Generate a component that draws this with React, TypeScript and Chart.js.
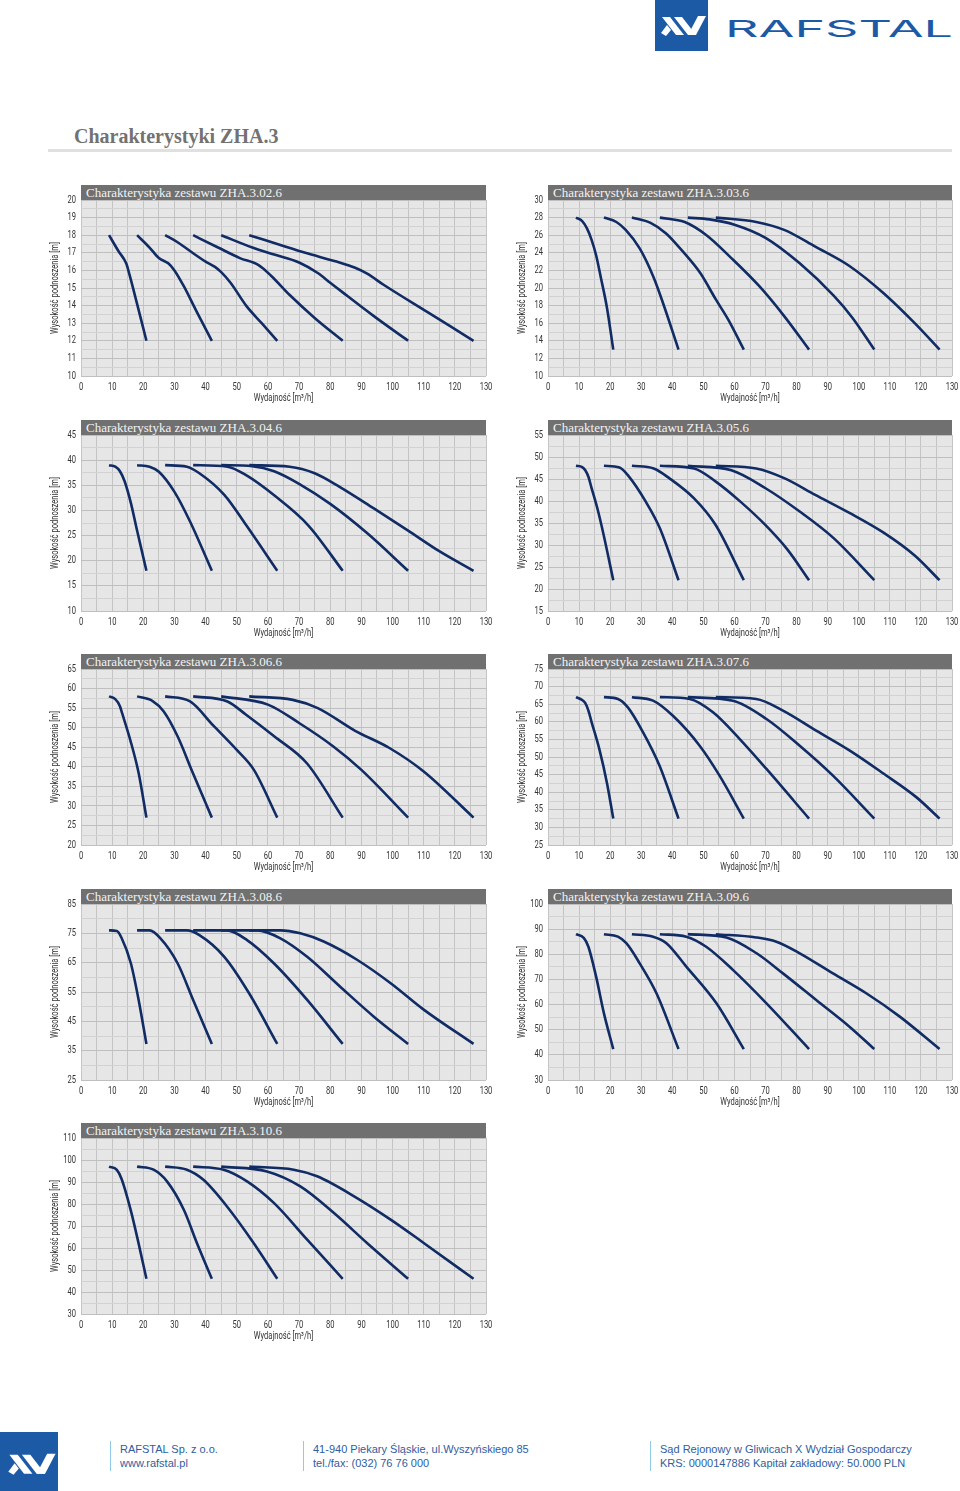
import React, { useEffect, useRef } from 'react';
import { Chart, registerables } from 'chart.js';

Chart.register(...registerables);

type Pt = [number, number];

// ---------------- data ----------------
const CHART_TITLES = [
  'Charakterystyka zestawu ZHA.3.02.6',
  'Charakterystyka zestawu ZHA.3.03.6',
  'Charakterystyka zestawu ZHA.3.04.6',
  'Charakterystyka zestawu ZHA.3.05.6',
  'Charakterystyka zestawu ZHA.3.06.6',
  'Charakterystyka zestawu ZHA.3.07.6',
  'Charakterystyka zestawu ZHA.3.08.6',
  'Charakterystyka zestawu ZHA.3.09.6',
  'Charakterystyka zestawu ZHA.3.10.6',
];
const Y_MIN = [10, 10, 10, 15, 20, 25, 25, 30, 30];
const Y_MAX = [20, 30, 45, 55, 65, 75, 85, 100, 110];
const Y_LABEL_STEP = [1, 2, 5, 5, 5, 5, 10, 10, 10];
const X_MIN = 0;
const X_MAX = 130;
const X_LABEL_STEP = 10;
const X_GRID_STEP = 5;
const X_TITLE = 'Wydajność [m³/h]';
const Y_TITLE = 'Wysokość podnoszenia [m]';

const ZHA_3_02_6: Pt[][] = [
  [[9, 18], [12, 17.1], [14.5, 16.4], [15.5, 15.8], [18, 14.1], [21, 12]],
  [[18, 18], [22, 17.3], [25, 16.7], [28, 16.4], [30, 16.0], [33, 15.1], [37, 13.7], [42, 12]],
  [[27, 18], [31, 17.6], [35, 17.1], [40, 16.5], [43, 16.2], [45, 15.9], [48, 15.3], [53, 14.0], [58, 13.0], [63, 12]],
  [[36, 18], [44, 17.3], [51, 16.7], [57, 16.3], [61, 15.7], [67, 14.6], [75, 13.3], [84, 12]],
  [[45, 18], [55, 17.3], [62, 16.9], [70, 16.45], [76, 15.85], [80, 15.3], [84, 14.75], [94, 13.4], [105, 12]],
  [[54, 18], [63, 17.5], [72, 17.0], [82, 16.5], [88, 16.15], [92, 15.8], [97, 15.2], [111.5, 13.6], [126, 12]],
];
const ZHA_3_03_6: Pt[][] = [
  [[9, 28], [11, 27.6], [12.5, 26.8], [14, 25.5], [15.5, 23.7], [17, 21.2], [19, 17.7], [21, 13]],
  [[18, 28], [22, 27.5], [25, 26.6], [29.5, 24.5], [34, 21.2], [37, 18.3], [42, 13]],
  [[27, 28], [33, 27.4], [38, 26.2], [43, 24.3], [49, 21.7], [54, 18.7], [58, 16.4], [63, 13]],
  [[36, 28], [44, 27.5], [51, 26], [59, 23.4], [68, 20.2], [76, 16.8], [84, 13]],
  [[45, 28], [52, 27.8], [60, 27.2], [70, 25.7], [81, 22.8], [92, 19.1], [98, 16.6], [105, 13]],
  [[54, 28], [67, 27.5], [76, 26.6], [86, 24.7], [97, 22.5], [108, 19.4], [118, 16], [126, 13]],
];
const ZHA_3_04_6: Pt[][] = [
  [[9, 39], [11, 38.7], [12.5, 37.8], [14, 35.8], [16, 31.5], [18, 26], [21, 18]],
  [[18, 39], [22, 38.7], [25, 37.7], [30, 33.7], [35, 27.8], [42, 18]],
  [[27, 39], [34, 38.7], [38, 37.4], [46, 33.1], [53, 27.1], [63, 18]],
  [[36, 39], [47, 38.7], [53, 37], [62, 33], [73, 27], [84, 18]],
  [[45, 39], [55, 38.8], [62, 37.8], [70, 35.3], [80, 31.3], [92, 25.4], [105, 18]],
  [[54, 39], [67, 38.7], [75, 37.4], [83, 34.7], [94, 30.4], [105, 26], [115, 21.9], [126, 18]],
];
const ZHA_3_05_6: Pt[][] = [
  [[9, 48], [11, 47.7], [12, 47], [13, 45.5], [14, 43], [16, 38], [18, 32], [21, 22]],
  [[18, 48], [23, 47.6], [26, 45.6], [31.5, 39.8], [36, 33.8], [42, 22]],
  [[27, 48], [34, 47.4], [39, 45.2], [47, 40.6], [54, 34.5], [63, 22]],
  [[36, 48], [47, 47.4], [54, 44.4], [62, 39.8], [70, 34.5], [77, 29], [84, 22]],
  [[45, 48], [59, 47], [70, 42.9], [81, 37.6], [92, 31.5], [105, 22]],
  [[54, 48], [67, 47.4], [76, 45.2], [86, 41.4], [97, 37.3], [108, 32.8], [118, 27.6], [126, 22]],
];
const ZHA_3_06_6: Pt[][] = [
  [[9, 58], [11, 57.3], [12.5, 55.5], [13.2, 53.7], [15.8, 46.9], [18.5, 38.4], [21, 27]],
  [[18, 58], [23, 56.8], [26.5, 54.2], [31, 47.8], [35.5, 39.2], [42, 27]],
  [[27, 58], [35, 56.7], [42.5, 50.5], [50, 44.3], [55.5, 39.2], [63, 27]],
  [[36, 58], [47, 56.7], [53, 53.3], [62, 47.8], [72.5, 40.9], [84, 27]],
  [[45, 58], [60, 55.9], [70, 51.2], [81, 45.2], [90, 39.2], [105, 27]],
  [[54, 58], [68, 57.1], [76, 55], [88, 49.2], [99, 44.8], [110, 38.8], [126, 27]],
];
const ZHA_3_07_6: Pt[][] = [
  [[9, 67], [11, 66.2], [12, 65.3], [13, 63.2], [14, 60], [16.5, 52.3], [19, 42.5], [21, 32.5]],
  [[18, 67], [22.5, 66.5], [25.7, 64.1], [30.6, 57], [35.9, 47.5], [42, 32.5]],
  [[27, 67], [33.8, 66], [40.2, 61.7], [48.8, 53.2], [55.2, 44.7], [63, 32.5]],
  [[36, 67], [45.6, 66.5], [53.1, 62.7], [61.7, 55.1], [70.3, 46.6], [84, 32.5]],
  [[45, 67], [59.5, 66], [70.3, 60.8], [81, 53.2], [91.7, 44.7], [105, 32.5]],
  [[54, 67], [67, 66.5], [75.6, 63.2], [86.3, 57.5], [97, 51.9], [107.8, 45.4], [118.5, 38.6], [126, 32.5]],
];
const ZHA_3_08_6: Pt[][] = [
  [[9, 76], [11.5, 75.8], [13, 73.5], [16, 64.8], [18.5, 52.3], [21, 37.3]],
  [[18, 76], [22, 76], [25.5, 73.3], [31, 64.8], [36, 52.3], [42, 37.3]],
  [[27, 76], [34, 76], [38, 74.4], [46, 67], [54, 54.5], [63, 37.3]],
  [[36, 76], [46.8, 76], [53.3, 72.7], [61.9, 64.8], [72.6, 52.3], [84, 37.3]],
  [[45, 76], [56.5, 76], [64, 73.3], [72.6, 67], [83.2, 56.8], [94, 46.6], [105, 37.3]],
  [[54, 76], [64, 76], [70.4, 75], [77.9, 72.2], [88.6, 66], [99.4, 58], [110, 49], [126, 37.3]],
];
const ZHA_3_09_6: Pt[][] = [
  [[9, 88], [11.5, 86.5], [13, 83], [15.5, 71], [18, 56.5], [21, 42.3]],
  [[18, 88], [22.5, 87], [25.2, 84.4], [29.5, 76.4], [34.9, 64.5], [42, 42.3]],
  [[27, 88], [33.8, 87], [38.1, 84.4], [44.5, 75.1], [54.2, 60.5], [63, 42.3]],
  [[36, 88], [44.5, 87], [50.9, 83], [59.5, 73.8], [70.3, 60.5], [84, 42.3]],
  [[45, 88], [57.4, 86.7], [67, 80.5], [75.6, 72.4], [86.3, 61.8], [97, 51.2], [105, 42.3]],
  [[54, 88], [67, 86.7], [73.5, 85], [81, 80.4], [91.7, 72.4], [102.4, 64.5], [113.2, 55.2], [126, 42.3]],
];
const ZHA_3_10_6: Pt[][] = [
  [[9, 97], [11.5, 95.5], [13, 91.5], [16, 77], [18.5, 62], [21, 46]],
  [[18, 97], [23.3, 95.6], [27.6, 90.3], [33, 77.4], [37.2, 62.3], [42, 46]],
  [[27, 97], [34, 95.6], [39.3, 91], [46.8, 79], [55.4, 62.3], [63, 46]],
  [[36, 97], [45.8, 95.6], [53.3, 90.3], [61.9, 80.5], [72.6, 63.8], [84, 46]],
  [[45, 97], [59.7, 94.8], [70.4, 88], [81.2, 75.9], [91.8, 62.3], [105, 46]],
  [[54, 97], [68.3, 95.6], [75.8, 92.6], [88.6, 82.7], [99.4, 72.9], [110, 62.3], [126, 46]],
];
const CURVES: Pt[][][] = [
  ZHA_3_02_6, ZHA_3_03_6, ZHA_3_04_6, ZHA_3_05_6, ZHA_3_06_6,
  ZHA_3_07_6, ZHA_3_08_6, ZHA_3_09_6, ZHA_3_10_6,
];

// ---------------- layout / style ----------------
const PLOT_LEFT = [81, 548];
const PLOT_WIDTH = [405, 404];
const ROW_TOP = [200, 435, 669, 904, 1138];
const PLOT_H = 176;
const AXIS_Y_W = 41;
const AXIS_X_H = 30;
const PAD_TOP = 12;
const PAD_RIGHT = 14;
const CONDENSE = 0.72;
const LINE = '#112c64';
const BAR = '#707070';
const BLUE = '#1c5aa6';
const AXIS_FONT = "Roboto, 'Liberation Sans', sans-serif";
const SERIF = "'Liberation Serif', 'Times New Roman', serif";

const bgPlugin = {
  id: 'plotBg',
  beforeDraw(chart: any) {
    const { ctx, chartArea } = chart;
    ctx.save();
    ctx.fillStyle = '#e6e6e6';
    ctx.fillRect(chartArea.left, chartArea.top, chartArea.right - chartArea.left, chartArea.bottom - chartArea.top);
    ctx.restore();
  },
};

function PumpChart({ index }: { index: number }) {
  const ref = useRef<HTMLCanvasElement>(null);
  const col = index % 2;
  const row = Math.floor(index / 2);
  const plotLeft = PLOT_LEFT[col];
  const plotW = PLOT_WIDTH[col];
  const plotTop = ROW_TOP[row];
  const left = plotLeft - AXIS_Y_W;
  const top = plotTop - PAD_TOP;
  const w = AXIS_Y_W + plotW + PAD_RIGHT;
  const h = PAD_TOP + PLOT_H + AXIS_X_H;

  useEffect(() => {
    const canvas = ref.current as HTMLCanvasElement;
    const ctx2d = canvas.getContext('2d') as any;
    // condensed axis lettering (the original uses a condensed sans face)
    const origFill = ctx2d.fillText.bind(ctx2d);
    ctx2d.fillText = (text: string, x: number, y: number, maxWidth?: number) => {
      const cw = ctx2d.measureText(text).width * CONDENSE;
      const mw = maxWidth !== undefined && maxWidth !== null ? Math.min(maxWidth, cw) : cw;
      origFill(text, x, y, mw > 0 ? mw : undefined);
    };

    const yMin = Y_MIN[index];
    const yMax = Y_MAX[index];
    const major = Y_LABEL_STEP[index];
    const isMajor = (v: number) => {
      const r = (v - yMin) / major;
      return Math.abs(r - Math.round(r)) < 1e-6;
    };
    const chart = new Chart(canvas, {
      type: 'scatter',
      data: {
        datasets: CURVES[index].map((pts, k) => ({
          label: String(k + 1),
          data: pts.map(([x, y]) => ({ x, y })),
          showLine: true,
          borderColor: LINE,
          backgroundColor: LINE,
          borderWidth: 2.6,
          pointRadius: 0,
          pointHoverRadius: 0,
          cubicInterpolationMode: 'monotone',
          fill: false,
        })),
      },
      options: {
        responsive: false,
        animation: false,
        events: [],
        layout: { padding: { top: PAD_TOP, right: PAD_RIGHT, left: 0, bottom: 0 } },
        plugins: { legend: { display: false }, tooltip: { enabled: false } },
        scales: {
          x: {
            type: 'linear',
            min: X_MIN,
            max: X_MAX,
            border: { display: false },
            grid: { color: '#c4c4c4', drawTicks: false, lineWidth: 1 },
            ticks: {
              stepSize: X_GRID_STEP,
              autoSkip: false,
              maxRotation: 0,
              padding: 5,
              color: '#333333',
              font: { family: AXIS_FONT, size: 10.5 },
              callback: (v: any) => (Math.abs(v % X_LABEL_STEP) < 1e-6 ? String(v) : ''),
            },
            title: {
              display: true,
              text: X_TITLE,
              color: '#333333',
              font: { family: AXIS_FONT, size: 10.5 },
              padding: { top: 0, bottom: 1 },
            },
            afterFit: (s: any) => { s.height = AXIS_X_H; },
          },
          y: {
            type: 'linear',
            min: yMin,
            max: yMax,
            border: { display: false },
            grid: {
              color: (c: any) => (c.tick && isMajor(c.tick.value) ? '#bfbfbf' : '#d2d2d2'),
              drawTicks: false,
              lineWidth: 1,
            },
            ticks: {
              stepSize: major / 2,
              autoSkip: false,
              padding: 5,
              color: '#333333',
              font: { family: AXIS_FONT, size: 10.5 },
              callback: (v: any) => (isMajor(Number(v)) ? String(v) : ''),
            },
            title: {
              display: true,
              text: Y_TITLE,
              color: '#333333',
              font: { family: AXIS_FONT, size: 10.5 },
              padding: { top: 9, bottom: 0 },
            },
            afterFit: (s: any) => { s.width = AXIS_Y_W; },
          },
        },
      } as any,
      plugins: [bgPlugin],
    } as any);
    return () => {
      chart.destroy();
      ctx2d.fillText = origFill;
    };
  }, [index]);

  return (
    <>
      <canvas
        ref={ref}
        width={w}
        height={h}
        style={{ position: 'absolute', left, top, width: w, height: h }}
      />
      <div
        style={{
          position: 'absolute',
          left: plotLeft,
          top: plotTop - 15,
          width: plotW,
          height: 15,
          background: BAR,
          color: '#f3f3f3',
          fontFamily: SERIF,
          fontSize: 13,
          lineHeight: '15px',
          paddingLeft: 5,
          boxSizing: 'border-box',
          whiteSpace: 'nowrap',
          overflow: 'hidden',
        }}
      >
        {CHART_TITLES[index]}
      </div>
    </>
  );
}

function LogoMark() {
  return (
    <g fill="#ffffff">
      <polygon points="7,17 15,17 29,35 21,35" />
      <polygon points="19,17 27,17 41,35 33,35" />
      <polygon points="33,35 41,35 51,16 43,16" />
      <polygon points="6,33 12,25 16,30 11,36" />
    </g>
  );
}

function Header() {
  return (
    <svg
      width={320}
      height={60}
      viewBox="0 0 320 60"
      style={{ position: 'absolute', left: 640, top: 0 }}
    >
      <rect x={15} y={0} width={53} height={51} fill={BLUE} />
      <g transform="translate(15,0)">
        <LogoMark />
      </g>
      <text
        x={85}
        y={37.3}
        fontFamily="Inter, Lato, 'Open Sans', sans-serif"
        fontSize={23}
        fill={BLUE}
        textLength={228}
        lengthAdjust="spacingAndGlyphs"
      >
        RAFSTAL
      </text>
    </svg>
  );
}

const FOOTER_BLOCKS = [
  { x: 110, lines: ['RAFSTAL Sp. z o.o.', 'www.rafstal.pl'] },
  { x: 303, lines: ['41-940 Piekary Śląskie, ul.Wyszyńskiego 85', 'tel./fax: (032) 76 76 000'] },
  { x: 650, lines: ['Sąd Rejonowy w Gliwicach X Wydział Gospodarczy', 'KRS: 0000147886 Kapitał zakładowy: 50.000 PLN'] },
];

function Footer() {
  return (
    <>
      <svg width={58} height={59} viewBox="0 0 58 59" style={{ position: 'absolute', left: 0, top: 1432 }}>
        <rect x={0} y={0} width={58} height={59} fill={BLUE} />
        <g transform="translate(2,5) scale(1.05)">
          <LogoMark />
        </g>
      </svg>
      {FOOTER_BLOCKS.map((b, i) => (
        <React.Fragment key={i}>
          <div style={{ position: 'absolute', left: b.x, top: 1441, width: 1, height: 30, background: '#8fcbe9' }} />
          <div
            style={{
              position: 'absolute',
              left: b.x + 10,
              top: 1442,
              fontFamily: "'Liberation Sans', Arial, sans-serif",
              fontSize: 11,
              lineHeight: '14px',
              color: '#2f5d9e',
              whiteSpace: 'nowrap',
            }}
          >
            <div>{b.lines[0]}</div>
            <div>{b.lines[1]}</div>
          </div>
        </React.Fragment>
      ))}
    </>
  );
}

export default function App() {
  return (
    <div style={{ position: 'relative', width: 960, height: 1491, overflow: 'hidden', background: '#ffffff' }}>
      <style>{'html,body{margin:0;padding:0;overflow:hidden;background:#fff}'}</style>
      <Header />
      <div
        style={{
          position: 'absolute',
          left: 74,
          top: 126,
          fontFamily: SERIF,
          fontWeight: 'bold',
          fontSize: 20,
          lineHeight: '20px',
          color: '#727272',
          whiteSpace: 'nowrap',
        }}
      >
        Charakterystyki ZHA.3
      </div>
      <div style={{ position: 'absolute', left: 48, top: 149, width: 904, height: 3, background: '#e0e0e0' }} />
      {CHART_TITLES.map((_, i) => (
        <PumpChart key={i} index={i} />
      ))}
      <Footer />
    </div>
  );
}
